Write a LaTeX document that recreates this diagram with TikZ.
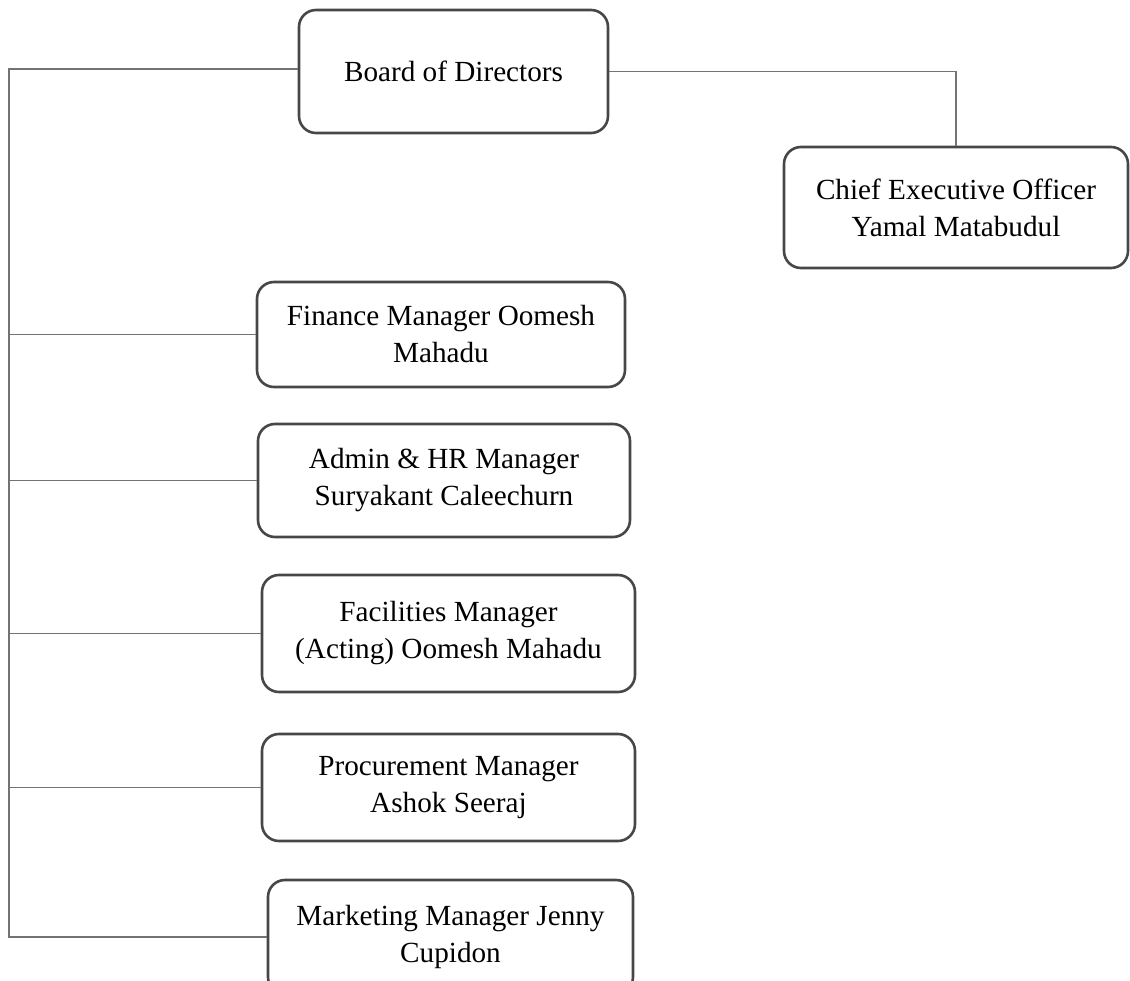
\documentclass[tikz,border=0pt]{standalone}
\usepackage{fontspec}
\setmainfont{Liberation Serif}

\begin{document}
\begin{tikzpicture}[x=1pt, y=-1pt,
  box/.style={draw=black!72, line width=2.6pt, rounded corners=17pt, align=center, inner sep=0pt, font=\fontsize{29.2}{37}\selectfont},
  link/.style={draw=black!55, line width=1.3pt}]

\useasboundingbox (0,0) rectangle (1130,981);
\clip (0,0) rectangle (1130,981);

\draw(453.5,71.5) node[box, minimum width=309pt, minimum height=123pt] (bod) {Board of Directors};
\draw(956,207.5) node[box, minimum width=344pt, minimum height=121pt] (ceo) {Chief Executive Officer\\Yamal Matabudul};
\draw(441,334.5) node[box, minimum width=368pt, minimum height=105pt] (fin) {Finance Manager Oomesh\\Mahadu};
\draw(444,480.5) node[box, minimum width=372pt, minimum height=113pt] (adm) {Admin \& HR Manager\\Suryakant Caleechurn};
\draw(448.5,633.5) node[box, minimum width=373pt, minimum height=117pt] (fac) {Facilities Manager\\(Acting) Oomesh Mahadu};
\draw(448.5,787.5) node[box, minimum width=373pt, minimum height=107pt] (pro) {Procurement Manager\\Ashok Seeraj};
\draw(450.5,937) node[box, minimum width=365pt, minimum height=114pt] (mkt) {Marketing Manager Jenny\\Cupidon};

\coordinate (spine) at (9,69);
\draw[link] (bod.west |- spine) -- (spine) |- (mkt.west);
\foreach \n in {fin,adm,fac,pro}
  \draw[link] (\n.west) -- (spine |- \n.west);
\draw[link] (bod.east) -| (ceo.north);

\end{tikzpicture}
\end{document}
